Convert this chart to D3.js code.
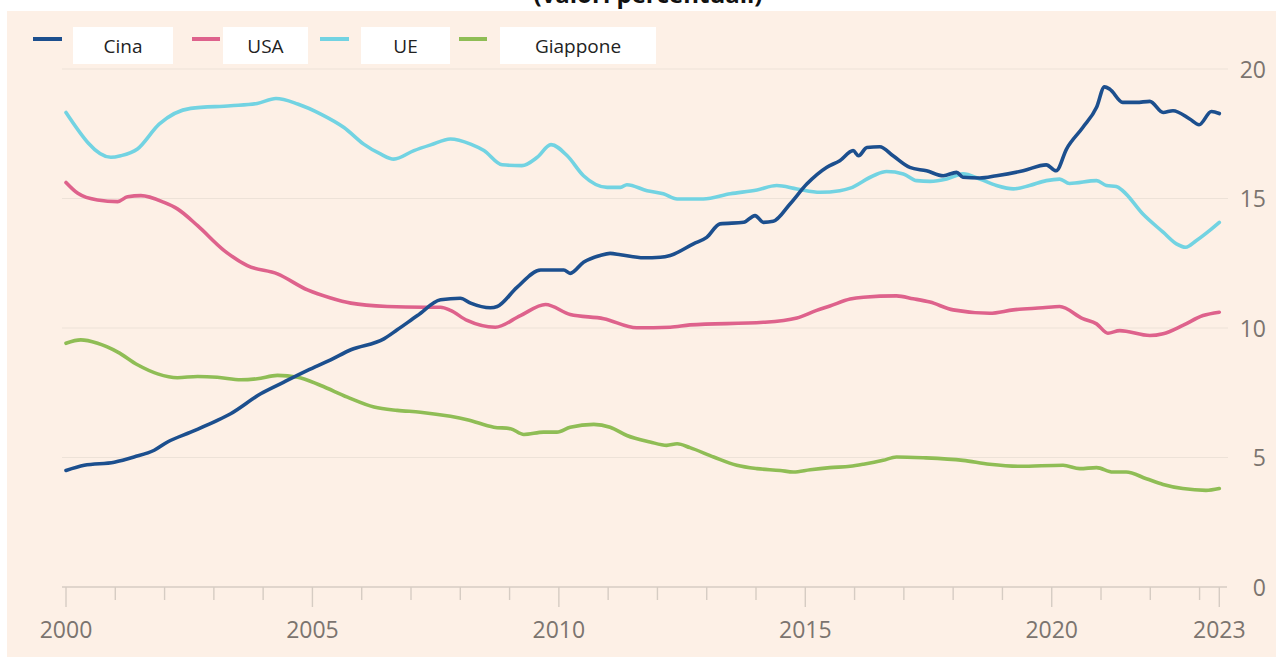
<!DOCTYPE html>
<html>
<head>
<meta charset="utf-8">
<script src="https://cdn.jsdelivr.net/npm/d3@7"></script>
<style>
  html, body { margin: 0; padding: 0; background: #ffffff; }
  svg { display: block; }
</style>
</head>
<body>
<svg id="chart" width="1276" height="658"></svg>
<script>
// ---------------- DATA ----------------
const seriesNames = ["Cina", "USA", "UE", "Giappone"];

const cinaYears = [2000.00,2000.37,2000.98,2001.38,2001.79,2002.06,2002.53,2003.07,2003.34,2003.95,2004.42,2004.90,2005.37,2005.78,2006.45,2006.72,2007.13,2007.60,2008.00,2008.21,2008.61,2008.75,2009.15,2009.63,2010.10,2010.23,2010.50,2010.84,2011.04,2011.25,2011.72,2012.06,2012.26,2012.73,2013.00,2013.27,2013.75,2013.98,2014.15,2014.35,2014.69,2015.03,2015.43,2015.70,2015.97,2016.08,2016.25,2016.51,2016.78,2017.12,2017.46,2017.80,2018.07,2018.20,2018.54,2018.88,2019.42,2019.89,2020.09,2020.30,2020.63,2020.91,2021.07,2021.18,2021.44,2021.72,2021.99,2022.26,2022.46,2022.80,2022.99,2023.24,2023.40];
const cinaValues = [4.50,4.70,4.82,5.02,5.28,5.60,5.98,6.43,6.69,7.46,7.91,8.36,8.77,9.16,9.58,9.93,10.48,11.09,11.15,10.96,10.78,10.83,11.57,12.24,12.24,12.11,12.54,12.80,12.88,12.83,12.71,12.73,12.80,13.25,13.50,14.02,14.08,14.34,14.08,14.12,14.79,15.56,16.20,16.46,16.85,16.65,16.97,17.00,16.65,16.20,16.07,15.88,16.01,15.82,15.79,15.88,16.07,16.30,16.07,16.91,17.74,18.52,19.31,19.22,18.71,18.71,18.75,18.32,18.39,18.07,17.85,18.36,18.28];

const usaYears = [2000.00,2000.24,2000.64,2001.05,2001.25,2001.52,2001.99,2002.26,2002.67,2003.21,2003.68,2004.29,2004.90,2005.37,2005.78,2006.52,2007.26,2007.60,2007.80,2008.14,2008.71,2009.22,2009.73,2010.23,2010.91,2011.58,2012.26,2012.66,2014.15,2014.83,2015.23,2015.50,2015.91,2016.18,2016.85,2017.19,2017.53,2018.00,2018.74,2019.22,2019.82,2020.16,2020.63,2020.91,2021.14,2021.38,2021.99,2022.26,2022.66,2023.07,2023.40];
const usaValues = [15.62,15.20,14.94,14.88,15.07,15.11,14.85,14.60,13.95,12.99,12.41,12.09,11.47,11.16,10.96,10.83,10.80,10.80,10.68,10.29,10.03,10.48,10.91,10.52,10.36,10.01,10.03,10.12,10.22,10.39,10.68,10.85,11.12,11.19,11.24,11.13,11.00,10.70,10.57,10.70,10.78,10.83,10.36,10.16,9.80,9.90,9.71,9.78,10.10,10.48,10.61];

const ueYears = [2000.00,2000.91,2001.11,2001.45,2001.89,2002.53,2003.34,2003.88,2004.26,2004.70,2005.17,2005.64,2006.04,2006.38,2006.65,2007.06,2007.40,2007.80,2008.21,2008.48,2008.85,2009.25,2009.56,2009.84,2010.17,2010.50,2010.98,2011.25,2011.38,2011.79,2012.12,2012.40,2012.93,2013.48,2014.02,2014.42,2014.83,2015.30,2015.70,2015.91,2016.38,2016.65,2016.99,2017.26,2017.53,2017.87,2018.20,2018.54,2018.88,2019.22,2019.55,2019.89,2020.16,2020.36,2020.91,2021.11,2021.31,2021.44,2021.85,2022.26,2022.53,2022.72,2022.93,2023.20,2023.40];
const ueValues = [18.32,16.59,16.65,16.91,17.87,18.48,18.58,18.67,18.86,18.65,18.26,17.74,17.10,16.72,16.52,16.85,17.07,17.30,17.10,16.85,16.30,16.27,16.59,17.08,16.65,15.88,15.43,15.43,15.53,15.30,15.18,14.98,14.98,15.18,15.33,15.50,15.37,15.24,15.30,15.40,15.88,16.04,15.95,15.69,15.66,15.75,15.95,15.75,15.50,15.37,15.50,15.69,15.75,15.58,15.69,15.50,15.46,15.30,14.40,13.70,13.25,13.12,13.37,13.76,14.08];

const giapponeYears = [2000.00,2000.30,2000.64,2001.05,2001.45,2001.86,2002.26,2002.67,2003.07,2003.55,2003.88,2004.29,2004.70,2005.17,2005.71,2006.25,2006.72,2007.19,2007.80,2008.14,2008.68,2009.02,2009.29,2009.69,2009.96,2010.23,2010.71,2011.04,2011.38,2011.85,2012.19,2012.40,2012.66,2013.14,2013.61,2014.02,2014.49,2014.76,2015.10,2015.50,2015.91,2016.18,2016.58,2016.85,2017.39,2018.20,2018.74,2019.35,2020.23,2020.57,2020.91,2021.24,2021.51,2021.92,2022.26,2022.66,2023.13,2023.40];
const giapponeValues = [9.41,9.54,9.41,9.07,8.58,8.23,8.08,8.13,8.10,8.00,8.04,8.17,8.10,7.78,7.33,6.95,6.82,6.75,6.59,6.46,6.17,6.11,5.89,5.98,5.98,6.17,6.28,6.17,5.85,5.60,5.47,5.53,5.38,5.02,4.70,4.57,4.50,4.44,4.53,4.61,4.66,4.74,4.89,5.02,4.99,4.89,4.74,4.66,4.70,4.57,4.61,4.44,4.44,4.18,3.96,3.80,3.73,3.80];

const xTickYears = d3.range(2000, 2024);           // yearly ticks
const xLabelYears = [2000, 2005, 2010, 2015, 2020]; // labelled ticks
const xEndYear = 2023.4;                            // end of data
const xEndLabel = "2023";
const yTicks = [0, 5, 10, 15, 20];
const titleText = "(valori percentuali)";

// ---------------- STYLE ----------------
const colors = { "Cina": "#1c4f8e", "USA": "#de628c", "UE": "#72d3e2", "Giappone": "#8fbd55" };
const bg = "#fdf0e6";
const gridColor = "#ede2d8";
const axisColor = "#d6ccc3";
const labelColor = "#7b746f";

const svg = d3.select("#chart");

// panel background
svg.append("rect").attr("x", 7).attr("y", 11).attr("width", 1276 - 7).attr("height", 657 - 11).attr("fill", bg);

// title (cut off at the top as in the reference)
svg.append("text")
  .attr("x", 648).attr("y", 3)
  .attr("text-anchor", "middle")
  .attr("font-family", "'Open Sans', 'DejaVu Sans', sans-serif")
  .attr("font-weight", "bold")
  .attr("font-size", 24)
  .attr("fill", "#111")
  .text(titleText);

const x = d3.scaleLinear().domain([2000, xEndYear]).range([66, 1219.3]);
const y = d3.scaleLinear().domain([0, 20]).range([587, 69]);

// gridlines
svg.append("g").selectAll("line")
  .data(yTicks.filter(d => d > 0))
  .join("line")
  .attr("x1", 62).attr("x2", 1228)
  .attr("y1", d => y(d)).attr("y2", d => y(d))
  .attr("stroke", gridColor).attr("stroke-width", 1.2);

// y labels (right side)
const yAxis = d3.axisRight(y).tickValues(yTicks).tickSize(0).tickPadding(0).tickFormat(d3.format("d"));
const gy = svg.append("g").attr("transform", "translate(1266,0)").call(yAxis);
gy.select(".domain").remove();
gy.selectAll("text")
  .attr("text-anchor", "end").attr("x", 0).attr("dy", "0.36em")
  .attr("font-family", "'Open Sans', sans-serif").attr("font-size", 23).attr("fill", labelColor);

// x axis baseline
svg.append("line").attr("x1", 62).attr("x2", 1227).attr("y1", y(0)).attr("y2", y(0))
  .attr("stroke", axisColor).attr("stroke-width", 1.6);

// x ticks
const gx = svg.append("g").attr("transform", `translate(0,${y(0)})`);
gx.selectAll("line.tick")
  .data(xTickYears.concat([xEndYear]))
  .join("line")
  .attr("class", "tick")
  .attr("x1", d => x(d)).attr("x2", d => x(d))
  .attr("y1", 0)
  .attr("y2", d => (xLabelYears.includes(d) || d === xEndYear) ? 20 : 13)
  .attr("stroke", axisColor).attr("stroke-width", 1.4);

const xLabels = xLabelYears.map(d => ({ v: d, t: String(d) })).concat([{ v: xEndYear, t: xEndLabel }]);
gx.selectAll("text")
  .data(xLabels)
  .join("text")
  .attr("x", d => x(d.v)).attr("y", 43)
  .attr("dy", "0.36em")
  .attr("text-anchor", "middle")
  .attr("font-family", "'Open Sans', sans-serif").attr("font-size", 23).attr("fill", labelColor)
  .text(d => d.t);

// lines
const seriesData = [
  { name: "UE", years: ueYears, values: ueValues },
  { name: "USA", years: usaYears, values: usaValues },
  { name: "Giappone", years: giapponeYears, values: giapponeValues },
  { name: "Cina", years: cinaYears, values: cinaValues }
];
const line = d3.line().x(d => x(d[0])).y(d => y(d[1])).curve(d3.curveMonotoneX);
svg.append("g").selectAll("path")
  .data(seriesData)
  .join("path")
  .attr("d", s => line(s.years.map((yr, i) => [yr, s.values[i]])))
  .attr("fill", "none")
  .attr("stroke", s => colors[s.name])
  .attr("stroke-width", 3.6)
  .attr("stroke-linejoin", "round")
  .attr("stroke-linecap", "round");

// legend
const legendLine = [[33, 62], [192, 220], [320, 349], [459, 487]];
const legendBox = [[73, 173], [223, 308], [361, 450], [500, 656]];
const lg = svg.append("g");
seriesNames.forEach((n, i) => {
  lg.append("line")
    .attr("x1", legendLine[i][0]).attr("x2", legendLine[i][1])
    .attr("y1", 39).attr("y2", 39)
    .attr("stroke", colors[n]).attr("stroke-width", 4);
  lg.append("rect")
    .attr("x", legendBox[i][0]).attr("y", 27)
    .attr("width", legendBox[i][1] - legendBox[i][0]).attr("height", 37)
    .attr("fill", "#ffffff");
  lg.append("text")
    .attr("x", (legendBox[i][0] + legendBox[i][1]) / 2).attr("y", 46)
    .attr("dy", "0.36em")
    .attr("text-anchor", "middle")
    .attr("font-family", "'Open Sans', sans-serif").attr("font-size", 19).attr("fill", "#222")
    .text(n);
});
</script>
</body>
</html>
